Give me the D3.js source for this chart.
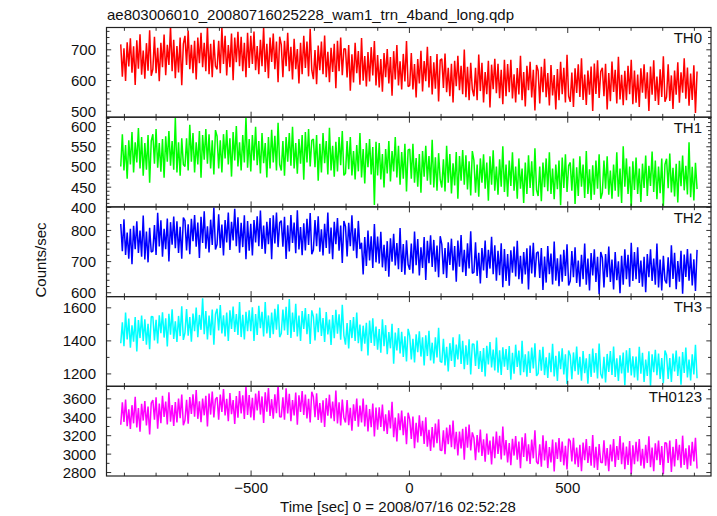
<!DOCTYPE html>
<html><head><meta charset="utf-8">
<script src="https://cdn.jsdelivr.net/npm/d3@7"></script>
<style>
body{margin:0;background:#fff}
svg{display:block}
text{font-family:"Liberation Sans",Arial,Helvetica,sans-serif;fill:#111}
</style>
</head><body>
<svg id="chart" width="717" height="516"></svg>
<script>
const titleText = "ae803006010_20080716025228_wam1_trn_4band_long.qdp";
const xTitle = "Time [sec] 0 = 2008/07/16 02:52:28";
const yTitle = "Counts/sec";
const bandNames = ["TH0", "TH1", "TH2", "TH3", "TH0123"];
const bandColors = ["#ff0000", "#00ff00", "#0000ff", "#00ffff", "#ff00ff"];
const timeStart = -910, timeStep = 5.0696;
const xDomain = [-955, 954];
const xMajorTicks = [-500, 0, 500];
const xMinorTicks = [-900,-800,-700,-600,-400,-300,-200,-100,100,200,300,400,600,700,800,900];
const yDomains = [[479, 771], [400, 622], [586, 874], [1122, 1665], [2757, 3731]];
const yMajorTicks = [[500, 600, 700], [400, 450, 500, 550, 600], [600, 700, 800], [1200, 1400, 1600], [2800, 3000, 3200, 3400, 3600]];
const yMinorStep = [20, 10, 20, 100, 100];

const th0 = [
716,611,703,597,723,644,736,624,710,584,729,637,749,617,696,604,720,630,762,614,
635,741,622,705,596,721,642,748,616,715,649,775,629,731,606,711,625,738,583,718,
744,649,761,635,715,622,728,602,738,655,754,642,721,629,774,619,718,609,731,645,
635,728,622,771,652,744,615,714,642,751,599,738,658,757,645,741,629,721,609,754,
639,744,652,758,632,711,619,731,645,771,626,718,606,738,659,751,635,725,593,741,
715,609,728,645,754,629,708,602,734,635,701,589,721,619,744,639,725,612,767,632,
603,698,586,712,632,725,619,745,609,692,593,705,626,718,573,728,629,738,616,702,
701,608,714,565,684,592,721,622,694,585,737,598,678,579,691,595,707,615,727,582,
681,576,668,562,688,609,701,589,675,549,694,602,714,582,661,569,685,595,727,579,
582,688,569,652,543,668,589,695,563,662,596,708,576,678,553,658,572,685,530,665,
669,574,686,560,640,547,653,527,663,580,679,567,646,554,699,544,643,534,656,570,
547,640,534,683,564,656,527,626,554,663,511,650,570,669,557,653,541,633,521,666,
547,652,560,666,540,619,527,639,553,679,534,626,514,646,567,659,543,633,501,649,
630,524,643,560,669,544,623,517,649,550,616,504,636,534,659,554,640,527,682,547,
529,624,512,638,558,651,545,671,535,618,519,631,552,644,499,654,555,664,542,628,
640,547,653,504,623,531,660,561,633,524,676,537,617,518,630,534,646,554,666,521,
631,526,618,512,638,559,651,539,625,499,644,552,664,532,611,519,635,545,677,529,
545,651,532,615,506,631,552,658,526,625,559,671,539,641,516,621,535,648,493,628];

const th1 = [
500,580,490,553,470,565,505,585,485,560,510,595,495,573,477,558,492,578,460,563,
580,507,593,497,558,487,568,472,575,512,588,502,563,492,620,485,560,477,570,505,
500,570,490,603,512,583,485,560,505,588,472,578,517,593,507,580,495,565,480,590,
575,495,565,485,580,520,590,505,570,475,585,515,600,500,560,490,578,510,622,497,
568,488,578,515,598,503,563,483,583,508,558,473,573,495,591,510,576,490,608,505,
490,563,477,573,512,583,502,598,495,558,482,568,507,578,467,585,510,593,500,565,
568,498,578,465,556,485,583,508,563,480,596,490,551,475,561,488,573,503,588,478,
483,563,493,573,478,538,468,553,488,583,473,543,458,558,498,568,480,548,405,561,
478,558,468,531,448,543,483,563,463,538,488,573,473,551,455,536,470,556,438,541,
543,470,556,460,521,450,531,435,538,475,551,465,526,455,566,448,523,440,533,468,
448,518,438,551,460,531,433,508,453,536,420,526,465,541,455,528,443,513,428,538,
515,435,505,425,520,460,530,445,510,415,525,455,540,440,500,430,518,450,550,437,
505,425,515,452,535,440,500,420,520,445,495,410,510,432,528,447,513,427,545,442,
427,500,414,510,449,520,439,535,432,495,419,505,444,515,404,522,447,530,437,502,
510,440,520,407,498,427,525,450,505,422,538,432,493,417,503,430,515,445,530,420,
435,515,445,525,430,490,420,505,440,535,425,495,410,550,450,520,432,500,400,513,
442,522,432,495,412,507,447,527,427,502,452,537,437,515,419,500,434,520,402,505,
519,446,532,436,497,426,507,411,514,451,527,441,502,431,560,424,499,416,509,444];

const th2 = [
819,732,834,720,792,708,804,690,813,738,828,726,798,714,846,705,795,696,807,729,
732,816,720,855,747,831,714,804,738,837,699,825,753,843,741,828,726,810,708,840,
830,734,818,722,836,764,848,746,824,710,842,758,860,740,812,728,833,752,872,737,
754,850,742,817,718,832,760,856,736,826,766,868,748,841,727,823,745,847,706,829,
733,820,718,832,760,844,748,862,739,814,724,826,754,838,706,847,757,856,745,823,
830,746,842,707,815,731,848,758,824,725,863,737,809,719,821,734,836,752,854,722,
736,832,748,844,730,802,718,820,742,856,724,808,706,826,754,838,733,814,694,829,
811,715,823,748,847,733,805,709,829,739,759,657,777,684,798,702,780,678,819,696,
779,692,794,680,752,668,764,650,773,698,788,686,758,674,806,665,755,656,767,689,
672,756,660,795,687,771,654,744,678,777,639,765,693,783,681,768,666,750,648,780,
754,658,742,646,760,688,772,670,748,634,766,682,784,664,736,652,757,676,796,661,
664,760,652,727,628,742,670,766,646,736,676,778,658,751,637,733,655,757,616,739,
636,723,621,735,663,747,651,765,642,717,627,729,657,741,609,750,660,759,648,726,
730,646,742,607,715,631,748,658,724,625,763,637,709,619,721,634,736,652,754,622,
636,732,648,744,630,702,618,720,642,756,624,708,606,726,654,738,633,714,594,729,
711,615,723,648,747,633,705,609,729,639,699,597,717,624,738,642,720,618,759,636,
729,642,744,630,702,618,714,600,723,648,738,636,708,624,756,615,705,606,717,639,
628,712,616,751,643,727,610,700,634,733,595,721,649,739,637,724,622,706,604,736];

const th3 = [
1383,1509,1365,1568,1405,1532,1356,1491,1392,1541,1333,1523,1414,1550,1396,1527,1374,1500,1347,1545,
1543,1399,1525,1381,1552,1444,1570,1417,1534,1363,1561,1435,1588,1408,1516,1390,1548,1426,1606,1403,
1446,1590,1428,1541,1392,1563,1455,1599,1419,1554,1464,1655,1437,1577,1405,1550,1432,1586,1374,1559,
1591,1460,1614,1442,1551,1424,1569,1397,1582,1469,1605,1451,1560,1433,1632,1420,1555,1406,1573,1456,
1582,1456,1600,1397,1560,1433,1609,1474,1573,1424,1632,1442,1551,1415,1569,1438,1591,1465,1618,1420,
1442,1586,1460,1604,1433,1650,1415,1568,1451,1622,1424,1550,1397,1577,1469,1595,1437,1559,1379,1582,
1544,1400,1562,1449,1598,1427,1535,1391,1571,1436,1526,1373,1553,1413,1585,1440,1558,1404,1616,1431,
1374,1505,1351,1523,1414,1541,1396,1568,1383,1496,1335,1489,1380,1507,1308,1520,1385,1534,1367,1484,
1343,1469,1325,1528,1365,1492,1316,1451,1352,1501,1258,1448,1339,1475,1321,1452,1299,1425,1272,1470,
1428,1284,1410,1266,1437,1329,1455,1302,1419,1248,1431,1305,1458,1278,1386,1260,1418,1296,1476,1273,
1266,1410,1248,1361,1212,1383,1275,1419,1239,1374,1284,1437,1257,1397,1225,1370,1252,1406,1194,1379,
1376,1245,1399,1227,1336,1209,1354,1182,1367,1254,1390,1236,1345,1218,1417,1205,1340,1191,1358,1241,
1347,1221,1365,1162,1325,1198,1374,1239,1338,1189,1397,1207,1316,1180,1334,1203,1356,1230,1383,1185,
1199,1343,1217,1361,1190,1298,1172,1325,1208,1379,1181,1307,1154,1334,1226,1352,1194,1316,1136,1339,
1309,1165,1327,1214,1363,1192,1300,1156,1336,1201,1291,1138,1318,1178,1350,1205,1323,1169,1381,1196,
1169,1300,1146,1318,1209,1336,1191,1363,1178,1291,1155,1309,1200,1327,1128,1340,1205,1354,1187,1304,
1176,1302,1158,1361,1198,1325,1149,1284,1185,1334,1126,1316,1207,1343,1189,1320,1167,1293,1140,1338,
1311,1167,1293,1149,1320,1212,1338,1185,1302,1131,1329,1203,1356,1176,1284,1158,1316,1194,1374,1171];

const th0123 = [
3314,3557,3344,3587,3298,3481,3268,3526,3329,3618,3283,3496,3238,3542,3359,3572,3306,3511,3207,3549,
3582,3369,3612,3270,3544,3331,3627,3399,3566,3316,3665,3346,3528,3300,3559,3338,3597,3384,3642,3308,
3363,3584,3325,3614,3432,3644,3401,3690,3378,3568,3340,3599,3416,3629,3295,3652,3424,3675,3394,3591,
3611,3368,3642,3452,3702,3414,3596,3353,3657,3429,3581,3322,3626,3391,3680,3436,3634,3376,3733,3421,
3636,3393,3606,3363,3652,3469,3682,3424,3621,3332,3667,3454,3712,3408,3591,3378,3644,3439,3743,3401,
3398,3611,3368,3710,3436,3649,3353,3581,3414,3664,3315,3634,3452,3680,3421,3642,3383,3596,3338,3672,
3617,3396,3655,3366,3548,3336,3579,3290,3602,3412,3640,3381,3564,3351,3685,3328,3556,3305,3586,3389,
3339,3582,3308,3498,3248,3536,3354,3597,3293,3521,3339,3598,3294,3529,3240,3484,3286,3544,3187,3499,
3259,3502,3289,3532,3243,3426,3213,3471,3274,3563,3178,3391,3133,3437,3254,3467,3201,3406,3102,3444,
3372,3159,3402,3060,3334,3121,3417,3189,3356,3106,3395,3076,3258,3030,3289,3068,3327,3114,3372,3038,
3033,3254,2995,3284,3102,3314,3071,3360,3048,3238,2980,3239,3056,3269,2935,3292,3064,3315,3034,3231,
3171,2928,3202,3012,3262,2974,3156,2913,3217,2989,3141,2882,3186,2951,3240,2996,3194,2936,3293,2981,
3146,2903,3116,2873,3162,2979,3192,2934,3131,2842,3177,2964,3222,2918,3101,2888,3154,2949,3253,2911,
2888,3101,2858,3200,2926,3139,2843,3071,2904,3154,2805,3124,2942,3170,2911,3132,2873,3086,2828,3162,
3135,2914,3173,2884,3066,2854,3097,2808,3120,2930,3158,2899,3082,2869,3203,2846,3074,2823,3104,2907,
2901,3144,2870,3060,2810,3098,2916,3159,2855,3083,2931,3190,2886,3121,2832,3076,2878,3136,2779,3091,
2884,3127,2914,3157,2868,3051,2838,3096,2899,3188,2853,3066,2808,3112,2929,3142,2876,3081,2777,3119,
3112,2899,3142,2800,3074,2861,3157,2929,3096,2846,3195,2876,3058,2830,3089,2868,3127,2914,3172,2838];

const series = [th0, th1, th2, th3, th0123];

const svg = d3.select("#chart");
const plotLeft = 106.5, plotRight = 711, plotTop = 27.5, panelH = 89.7;
const x = d3.scaleLinear().domain(xDomain).range([plotLeft, plotRight]);
const tickColor = "#333";

svg.append("text").attr("x", 107).attr("y", 19.5).attr("font-size", 15).text(titleText);

series.forEach((vals, i) => {
  const y0 = plotTop + i * panelH, y1 = y0 + panelH;
  const y = d3.scaleLinear().domain(yDomains[i]).range([y1, y0]);
  const g = svg.append("g");

  const clipId = "clip" + i;
  svg.append("clipPath").attr("id", clipId).append("rect")
    .attr("x", plotLeft).attr("y", y0).attr("width", plotRight - plotLeft).attr("height", panelH);

  const line = d3.line().x((d, k) => x(timeStart + k * timeStep)).y(d => y(d));
  g.append("path").datum(vals).attr("clip-path", `url(#${clipId})`)
    .attr("fill", "none").attr("stroke", bandColors[i]).attr("stroke-width", 1.5)
    .attr("stroke-linejoin", "bevel").attr("d", line);

  const minor = d3.range(Math.ceil(yDomains[i][0] / yMinorStep[i]) * yMinorStep[i], yDomains[i][1], yMinorStep[i])
    .filter(v => !yMajorTicks[i].includes(v));

  const styleAxis = sel => { sel.select(".domain").remove(); sel.selectAll("line").attr("stroke", tickColor); };

  g.append("g").attr("transform", `translate(${plotLeft},0)`)
    .call(d3.axisLeft(y).tickValues(yMajorTicks[i]).tickSize(-4.7).tickSizeOuter(0).tickPadding(10.5).tickFormat(d3.format("d")))
    .call(styleAxis)
    .call(s => s.selectAll("text").attr("font-size", 15).attr("fill", "#111").attr("dy", "0.36em").style("font-family", "Liberation Sans, Arial, sans-serif"));
  g.append("g").attr("transform", `translate(${plotLeft},0)`)
    .call(d3.axisLeft(y).tickValues(minor).tickSize(-3).tickSizeOuter(0).tickFormat(""))
    .call(styleAxis);
  g.append("g").attr("transform", `translate(${plotRight},0)`)
    .call(d3.axisRight(y).tickValues(yMajorTicks[i]).tickSize(-4.7).tickSizeOuter(0).tickFormat(""))
    .call(styleAxis);
  g.append("g").attr("transform", `translate(${plotRight},0)`)
    .call(d3.axisRight(y).tickValues(minor).tickSize(-3).tickSizeOuter(0).tickFormat(""))
    .call(styleAxis);
  [[d3.axisTop, y0], [d3.axisBottom, y1]].forEach(([ax, yy]) => {
    g.append("g").attr("transform", `translate(0,${yy})`)
      .call(ax(x).tickValues(xMajorTicks).tickSize(-5.5).tickSizeOuter(0).tickFormat(""))
      .call(styleAxis);
    g.append("g").attr("transform", `translate(0,${yy})`)
      .call(ax(x).tickValues(xMinorTicks).tickSize(-3.3).tickSizeOuter(0).tickFormat(""))
      .call(styleAxis);
  });

  g.append("rect").attr("x", plotLeft).attr("y", y0).attr("width", plotRight - plotLeft).attr("height", panelH)
    .attr("fill", "none").attr("stroke", "#222").attr("stroke-width", 1.2);

  g.append("text").attr("x", 702).attr("y", y0 + 15.8).attr("text-anchor", "end")
    .attr("font-size", 15).text(bandNames[i]);
});

const bottomY = plotTop + 5 * panelH;
svg.append("g").attr("transform", `translate(0,${bottomY})`)
  .call(d3.axisBottom(x).tickValues(xMajorTicks).tickSize(0).tickPadding(6.4))
  .call(s => s.select(".domain").remove())
  .call(s => s.selectAll("text").attr("font-size", 15).attr("fill", "#111").style("font-family", "Liberation Sans, Arial, sans-serif"));

svg.append("text").attr("x", 398).attr("y", 512).attr("text-anchor", "middle")
  .attr("font-size", 15).text(xTitle);

svg.append("text").attr("transform", "translate(46,260) rotate(-90)").attr("text-anchor", "middle")
  .attr("font-size", 15).text(yTitle);
</script>
</body></html>
